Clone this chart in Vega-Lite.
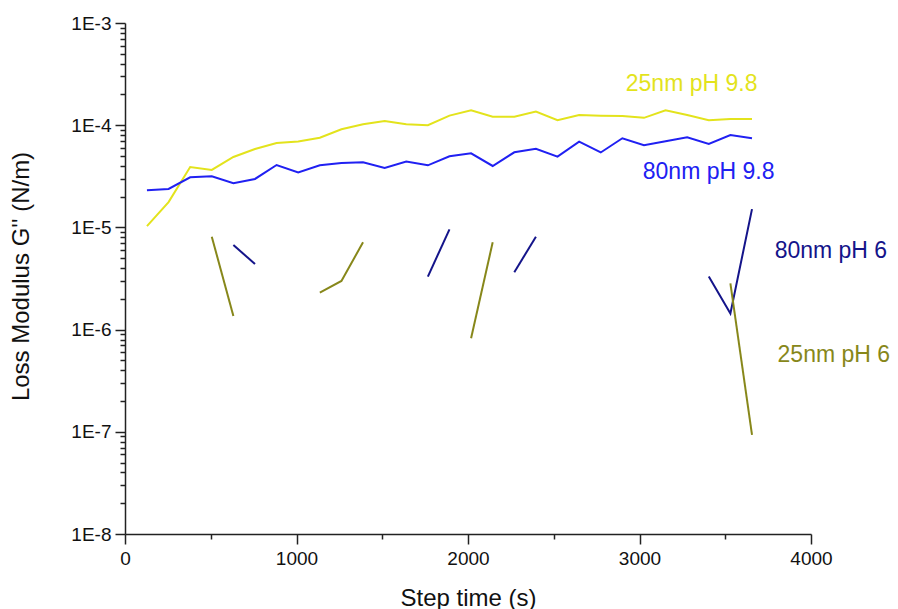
{
  "$schema": "https://vega.github.io/schema/vega-lite/v6.json",
  "width": 686,
  "height": 511,
  "autosize": "none",
  "padding": {"left": 125, "top": 23, "right": 87, "bottom": 75},
  "background": "white",
  "config": {
    "view": {"stroke": null},
    "font": "Liberation Sans",
    "axis": {
      "grid": false,
      "labelFont": "Liberation Sans",
      "labelFontSize": 19,
      "labelColor": "#111111",
      "titleFont": "Liberation Sans",
      "titleFontSize": 24,
      "titleFontWeight": "normal",
      "titleColor": "#111111",
      "domainColor": "#222222",
      "domainWidth": 1.5,
      "tickColor": "#222222",
      "tickWidth": 1.5
    }
  },
  "datasets": {
    "lines": [
      {"t": 128, "g": 1.03e-5, "series": "25nm pH 9.8", "seg": "y"},
      {"t": 254, "g": 1.77e-5, "series": "25nm pH 9.8", "seg": "y"},
      {"t": 380, "g": 3.90e-5, "series": "25nm pH 9.8", "seg": "y"},
      {"t": 506, "g": 3.65e-5, "series": "25nm pH 9.8", "seg": "y"},
      {"t": 632, "g": 4.89e-5, "series": "25nm pH 9.8", "seg": "y"},
      {"t": 758, "g": 5.85e-5, "series": "25nm pH 9.8", "seg": "y"},
      {"t": 884, "g": 6.70e-5, "series": "25nm pH 9.8", "seg": "y"},
      {"t": 1010, "g": 6.93e-5, "series": "25nm pH 9.8", "seg": "y"},
      {"t": 1136, "g": 7.55e-5, "series": "25nm pH 9.8", "seg": "y"},
      {"t": 1262, "g": 9.12e-5, "series": "25nm pH 9.8", "seg": "y"},
      {"t": 1388, "g": 1.02e-4, "series": "25nm pH 9.8", "seg": "y"},
      {"t": 1514, "g": 1.10e-4, "series": "25nm pH 9.8", "seg": "y"},
      {"t": 1640, "g": 1.02e-4, "series": "25nm pH 9.8", "seg": "y"},
      {"t": 1766, "g": 1.00e-4, "series": "25nm pH 9.8", "seg": "y"},
      {"t": 1892, "g": 1.24e-4, "series": "25nm pH 9.8", "seg": "y"},
      {"t": 2018, "g": 1.40e-4, "series": "25nm pH 9.8", "seg": "y"},
      {"t": 2144, "g": 1.21e-4, "series": "25nm pH 9.8", "seg": "y"},
      {"t": 2270, "g": 1.21e-4, "series": "25nm pH 9.8", "seg": "y"},
      {"t": 2396, "g": 1.36e-4, "series": "25nm pH 9.8", "seg": "y"},
      {"t": 2522, "g": 1.12e-4, "series": "25nm pH 9.8", "seg": "y"},
      {"t": 2648, "g": 1.26e-4, "series": "25nm pH 9.8", "seg": "y"},
      {"t": 2774, "g": 1.24e-4, "series": "25nm pH 9.8", "seg": "y"},
      {"t": 2900, "g": 1.23e-4, "series": "25nm pH 9.8", "seg": "y"},
      {"t": 3026, "g": 1.18e-4, "series": "25nm pH 9.8", "seg": "y"},
      {"t": 3152, "g": 1.40e-4, "series": "25nm pH 9.8", "seg": "y"},
      {"t": 3278, "g": 1.26e-4, "series": "25nm pH 9.8", "seg": "y"},
      {"t": 3404, "g": 1.12e-4, "series": "25nm pH 9.8", "seg": "y"},
      {"t": 3530, "g": 1.15e-4, "series": "25nm pH 9.8", "seg": "y"},
      {"t": 3656, "g": 1.15e-4, "series": "25nm pH 9.8", "seg": "y"},

      {"t": 128, "g": 2.31e-5, "series": "80nm pH 9.8", "seg": "b"},
      {"t": 254, "g": 2.38e-5, "series": "80nm pH 9.8", "seg": "b"},
      {"t": 380, "g": 3.09e-5, "series": "80nm pH 9.8", "seg": "b"},
      {"t": 506, "g": 3.16e-5, "series": "80nm pH 9.8", "seg": "b"},
      {"t": 632, "g": 2.70e-5, "series": "80nm pH 9.8", "seg": "b"},
      {"t": 758, "g": 2.98e-5, "series": "80nm pH 9.8", "seg": "b"},
      {"t": 884, "g": 4.08e-5, "series": "80nm pH 9.8", "seg": "b"},
      {"t": 1010, "g": 3.44e-5, "series": "80nm pH 9.8", "seg": "b"},
      {"t": 1136, "g": 4.05e-5, "series": "80nm pH 9.8", "seg": "b"},
      {"t": 1262, "g": 4.27e-5, "series": "80nm pH 9.8", "seg": "b"},
      {"t": 1388, "g": 4.34e-5, "series": "80nm pH 9.8", "seg": "b"},
      {"t": 1514, "g": 3.81e-5, "series": "80nm pH 9.8", "seg": "b"},
      {"t": 1640, "g": 4.40e-5, "series": "80nm pH 9.8", "seg": "b"},
      {"t": 1766, "g": 4.05e-5, "series": "80nm pH 9.8", "seg": "b"},
      {"t": 1892, "g": 4.96e-5, "series": "80nm pH 9.8", "seg": "b"},
      {"t": 2018, "g": 5.31e-5, "series": "80nm pH 9.8", "seg": "b"},
      {"t": 2144, "g": 3.99e-5, "series": "80nm pH 9.8", "seg": "b"},
      {"t": 2270, "g": 5.43e-5, "series": "80nm pH 9.8", "seg": "b"},
      {"t": 2396, "g": 5.89e-5, "series": "80nm pH 9.8", "seg": "b"},
      {"t": 2522, "g": 4.92e-5, "series": "80nm pH 9.8", "seg": "b"},
      {"t": 2648, "g": 6.90e-5, "series": "80nm pH 9.8", "seg": "b"},
      {"t": 2774, "g": 5.41e-5, "series": "80nm pH 9.8", "seg": "b"},
      {"t": 2900, "g": 7.45e-5, "series": "80nm pH 9.8", "seg": "b"},
      {"t": 3026, "g": 6.36e-5, "series": "80nm pH 9.8", "seg": "b"},
      {"t": 3152, "g": 6.96e-5, "series": "80nm pH 9.8", "seg": "b"},
      {"t": 3278, "g": 7.61e-5, "series": "80nm pH 9.8", "seg": "b"},
      {"t": 3404, "g": 6.55e-5, "series": "80nm pH 9.8", "seg": "b"},
      {"t": 3530, "g": 8.02e-5, "series": "80nm pH 9.8", "seg": "b"},
      {"t": 3656, "g": 7.45e-5, "series": "80nm pH 9.8", "seg": "b"},

      {"t": 632, "g": 6.73e-6, "series": "80nm pH 6", "seg": "n1"},
      {"t": 758, "g": 4.38e-6, "series": "80nm pH 6", "seg": "n1"},
      {"t": 1766, "g": 3.30e-6, "series": "80nm pH 6", "seg": "n2"},
      {"t": 1892, "g": 9.58e-6, "series": "80nm pH 6", "seg": "n2"},
      {"t": 2270, "g": 3.64e-6, "series": "80nm pH 6", "seg": "n3"},
      {"t": 2396, "g": 8.11e-6, "series": "80nm pH 6", "seg": "n3"},
      {"t": 3404, "g": 3.30e-6, "series": "80nm pH 6", "seg": "n4"},
      {"t": 3530, "g": 1.44e-6, "series": "80nm pH 6", "seg": "n4"},
      {"t": 3656, "g": 1.51e-5, "series": "80nm pH 6", "seg": "n4"},

      {"t": 506, "g": 8.11e-6, "series": "25nm pH 6", "seg": "o1"},
      {"t": 632, "g": 1.36e-6, "series": "25nm pH 6", "seg": "o1"},
      {"t": 1136, "g": 2.30e-6, "series": "25nm pH 6", "seg": "o2"},
      {"t": 1262, "g": 2.99e-6, "series": "25nm pH 6", "seg": "o2"},
      {"t": 1388, "g": 7.15e-6, "series": "25nm pH 6", "seg": "o2"},
      {"t": 2018, "g": 8.22e-7, "series": "25nm pH 6", "seg": "o3"},
      {"t": 2144, "g": 7.15e-6, "series": "25nm pH 6", "seg": "o3"},
      {"t": 3530, "g": 2.84e-6, "series": "25nm pH 6", "seg": "o4"},
      {"t": 3656, "g": 9.31e-8, "series": "25nm pH 6", "seg": "o4"}
    ],
    "labels": [
      {"t": 2920, "g": 2.14e-4, "series": "25nm pH 9.8"},
      {"t": 3019, "g": 2.98e-5, "series": "80nm pH 9.8"},
      {"t": 3788, "g": 5.02e-6, "series": "80nm pH 6"},
      {"t": 3805, "g": 4.82e-7, "series": "25nm pH 6"}
    ]
  },
  "encoding": {
    "x": {
      "field": "t",
      "type": "quantitative",
      "scale": {"domain": [0, 4000], "nice": false, "zero": false},
      "axis": {
        "orient": "bottom",
        "title": "Step time (s)",
        "values": [0, 500, 1000, 1500, 2000, 2500, 3000, 3500, 4000],
        "format": "d",
        "labelExpr": "datum.value % 1000 === 0 ? datum.label : ''",
        "tickSize": {"condition": {"test": "datum.value % 1000 === 0", "value": 10}, "value": 5},
        "labelPadding": 5,
        "labelFlush": false,
        "labelOverlap": false,
        "titleX": 343,
        "titleY": 71,
        "titleAnchor": null,
        "titleAlign": "center",
        "titleBaseline": "alphabetic"
      }
    },
    "y": {
      "field": "g",
      "type": "quantitative",
      "scale": {"type": "log", "domain": [1e-8, 1e-3], "nice": false},
      "axis": {
        "orient": "left",
        "title": "Loss Modulus G'' (N/m)",
        "values": [1e-8, 2e-8, 3e-8, 4e-8, 5e-8, 6e-8, 7e-8, 8e-8, 9e-8,
                   1e-7, 2e-7, 3e-7, 4e-7, 5e-7, 6e-7, 7e-7, 8e-7, 9e-7,
                   1e-6, 2e-6, 3e-6, 4e-6, 5e-6, 6e-6, 7e-6, 8e-6, 9e-6,
                   1e-5, 2e-5, 3e-5, 4e-5, 5e-5, 6e-5, 7e-5, 8e-5, 9e-5,
                   1e-4, 2e-4, 3e-4, 4e-4, 5e-4, 6e-4, 7e-4, 8e-4, 9e-4, 1e-3],
        "labelExpr": "abs(log(datum.value)/LN10 - round(log(datum.value)/LN10)) < 1e-6 ? '1E' + round(log(datum.value)/LN10) : ''",
        "tickSize": {"condition": {"test": "abs(log(datum.value)/LN10 - round(log(datum.value)/LN10)) < 1e-6", "value": 10}, "value": 5},
        "labelPadding": 4,
        "labelFlush": false,
        "labelOverlap": false,
        "titleAngle": -90,
        "titleX": -104,
        "titleY": 253,
        "titleAnchor": null,
        "titleAlign": "center",
        "titleBaseline": "middle"
      }
    },
    "color": {
      "field": "series",
      "type": "nominal",
      "scale": {
        "domain": ["25nm pH 9.8", "80nm pH 9.8", "80nm pH 6", "25nm pH 6"],
        "range": ["#e3e31c", "#2020f2", "#14148a", "#87871a"]
      },
      "legend": null
    }
  },
  "layer": [
    {
      "data": {"name": "lines"},
      "mark": {"type": "line", "strokeWidth": 2, "clip": true},
      "encoding": {
        "detail": {"field": "seg", "type": "nominal"}
      }
    },
    {
      "data": {"name": "labels"},
      "mark": {"type": "text", "align": "left", "baseline": "alphabetic", "fontSize": 23, "font": "Liberation Sans"},
      "encoding": {
        "text": {"field": "series", "type": "nominal"}
      }
    }
  ]
}
